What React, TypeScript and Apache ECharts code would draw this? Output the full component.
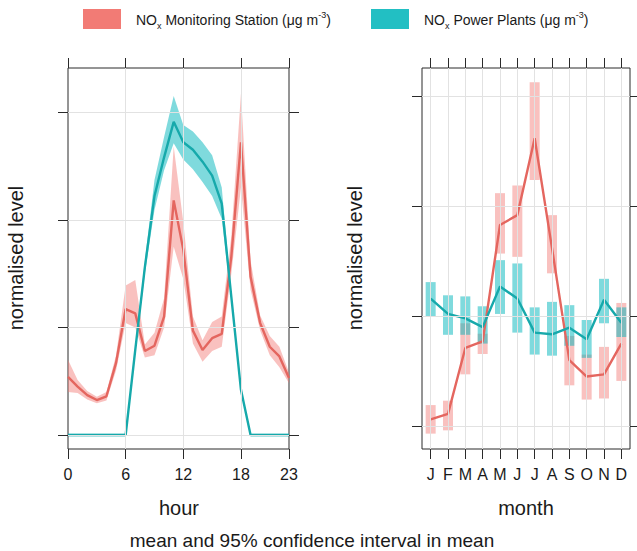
import React, { useEffect, useRef } from "react";
import * as echarts from "echarts";

// ---------- data ----------
const hours = [0, 1, 2, 3, 4, 5, 6, 7, 8, 9, 10, 11, 12, 13, 14, 15, 16, 17, 18, 19, 20, 21, 22, 23];
const hourTicks = [0, 6, 12, 18, 23];
const hourGrid = [6, 12, 18];

const hourStationMean = [0.54, 0.45, 0.37, 0.325, 0.36, 0.67, 1.17, 1.13, 0.78, 0.83, 1.10, 2.18, 1.72, 0.97, 0.79, 0.90, 0.94, 1.66, 2.72, 1.47, 1.04, 0.82, 0.73, 0.53];
const hourStationLow = [0.40, 0.39, 0.33, 0.295, 0.32, 0.60, 1.04, 1.00, 0.72, 0.74, 1.00, 1.75, 1.45, 0.85, 0.68, 0.78, 0.82, 1.50, 2.30, 1.35, 0.97, 0.74, 0.63, 0.48];
const hourStationHigh = [0.70, 0.51, 0.41, 0.355, 0.40, 0.74, 1.39, 1.44, 0.84, 0.95, 1.27, 2.68, 1.98, 1.10, 0.88, 1.05, 1.10, 1.85, 3.17, 1.62, 1.11, 0.92, 0.82, 0.58];

const hourPlantMean = [0, 0, 0, 0, 0, 0, 0, 0.79, 1.56, 2.22, 2.58, 2.91, 2.72, 2.65, 2.54, 2.41, 2.15, 1.28, 0.42, 0, 0, 0, 0, 0];
const hourPlantLow = [-0.012, -0.012, -0.012, -0.012, -0.012, -0.012, -0.012, 0.76, 1.50, 2.09, 2.46, 2.71, 2.56, 2.47, 2.35, 2.22, 2.01, 1.25, 0.40, -0.012, -0.012, -0.012, -0.012, -0.012];
const hourPlantHigh = [0.012, 0.012, 0.012, 0.012, 0.012, 0.012, 0.012, 0.82, 1.62, 2.37, 2.77, 3.15, 2.88, 2.82, 2.72, 2.60, 2.30, 1.31, 0.44, 0.012, 0.012, 0.012, 0.012, 0.012];

const monthNums = [1, 2, 3, 4, 5, 6, 7, 8, 9, 10, 11, 12];
const monthLabels = ["J", "F", "M", "A", "M", "J", "J", "A", "S", "O", "N", "D"];

const monthStationMean = [0.06, 0.11, 0.71, 0.77, 1.83, 1.92, 2.62, 1.62, 0.60, 0.45, 0.47, 0.75];
const monthStationLow = [-0.07, -0.04, 0.47, 0.655, 1.57, 1.54, 2.24, 1.39, 0.37, 0.24, 0.25, 0.41];
const monthStationHigh = [0.19, 0.23, 0.935, 0.84, 2.12, 2.19, 3.13, 1.92, 0.82, 0.65, 0.72, 1.12];

const monthPlantMean = [1.16, 1.02, 0.98, 0.90, 1.27, 1.16, 0.85, 0.835, 0.895, 0.79, 1.15, 0.94];
const monthPlantLow = [1.0, 0.83, 0.83, 0.75, 1.02, 0.85, 0.65, 0.64, 0.73, 0.62, 0.935, 0.81];
const monthPlantHigh = [1.31, 1.19, 1.18, 1.09, 1.51, 1.48, 1.08, 1.13, 1.10, 0.965, 1.34, 1.08];

const levelTicks = [0, 1, 2, 3];

// ---------- styles ----------
const FONT = "'Liberation Sans', Arial, Helvetica, sans-serif";
const RED_LINE = "#E4665F";
const RED_BAND = "rgba(242,118,112,0.45)";
const RED_SWATCH = "#F27B75";
const TEAL_LINE = "#16A9AB";
const TEAL_BAND = "rgba(0,182,188,0.5)";
const TEAL_SWATCH = "#22BFC3";
const AXIS = "#2a2a2a";
const GRIDLINE = "#e2e2e2";
const TEXT = "#1a1a1a";

function bandPolygon(xs: number[], lo: number[], hi: number[], fill: string, xi: number, yi: number) {
  return {
    type: "custom",
    xAxisIndex: xi,
    yAxisIndex: yi,
    silent: true,
    z: 2,
    data: xs.map((x, i) => [x, lo[i], hi[i]]),
    encode: { x: 0, y: [1, 2] },
    renderItem: (params: any, api: any) => {
      if (params.dataIndex !== 0) return null;
      const up = xs.map((x, i) => api.coord([x, hi[i]]));
      const dn = xs.map((x, i) => api.coord([x, lo[i]])).reverse();
      return { type: "polygon", shape: { points: up.concat(dn) }, style: { fill } };
    },
  };
}

function bandRects(xs: number[], lo: number[], hi: number[], fill: string, xi: number, yi: number) {
  return {
    type: "custom",
    xAxisIndex: xi,
    yAxisIndex: yi,
    silent: true,
    z: 2,
    data: xs.map((x, i) => [x, lo[i], hi[i]]),
    encode: { x: 0, y: [1, 2] },
    renderItem: (params: any, api: any) => {
      const top = api.coord([api.value(0), api.value(2)]);
      const bot = api.coord([api.value(0), api.value(1)]);
      return {
        type: "rect",
        shape: { x: top[0] - 5, y: top[1], width: 10, height: bot[1] - top[1] },
        style: { fill },
      };
    },
  };
}

function meanLine(xs: number[], ys: number[], color: string, xi: number, yi: number) {
  return {
    type: "line",
    xAxisIndex: xi,
    yAxisIndex: yi,
    silent: true,
    z: 3,
    symbol: "none",
    showSymbol: false,
    data: xs.map((x, i) => [x, ys[i]]),
    lineStyle: { color, width: 2.4 },
  };
}

function gridLines(xVals: number[], yVals: number[], xi: number, yi: number) {
  return {
    type: "line",
    xAxisIndex: xi,
    yAxisIndex: yi,
    silent: true,
    z: 1,
    symbol: "none",
    data: [[xVals[0], yVals[0]]],
    lineStyle: { width: 0, opacity: 0 },
    markLine: {
      silent: true,
      symbol: "none",
      label: { show: false },
      animation: false,
      lineStyle: { color: GRIDLINE, type: "solid", width: 1 },
      data: [...xVals.map((v) => ({ xAxis: v })), ...yVals.map((v) => ({ yAxis: v }))],
    },
  };
}

function xAxisDef(grid: number, pos: string, min: number, max: number, ticks: number[], labels: boolean, fmt?: (v: number) => string) {
  return {
    type: "value",
    gridIndex: grid,
    position: pos,
    min,
    max,
    axisLine: { show: false, onZero: false },
    axisTick: { show: true, length: 10, customValues: ticks, lineStyle: { color: AXIS, width: 1 } },
    axisLabel: labels
      ? { show: true, customValues: ticks, fontSize: 16, fontFamily: FONT, color: TEXT, margin: 17, formatter: fmt }
      : { show: false },
    splitLine: { show: false },
  };
}

function yAxisDef(grid: number, pos: string, min: number, max: number) {
  return {
    type: "value",
    gridIndex: grid,
    position: pos,
    min,
    max,
    axisLine: { show: false, onZero: false },
    axisTick: { show: true, length: 10, customValues: levelTicks, lineStyle: { color: AXIS, width: 1 } },
    axisLabel: { show: false },
    splitLine: { show: false },
  };
}

function legendEntry(x: number, swatch: string, label: string) {
  return {
    type: "group",
    children: [
      { type: "rect", shape: { x, y: 9, width: 38, height: 20 }, style: { fill: swatch } },
      {
        type: "text",
        x: x + 53,
        y: 20,
        style: {
          text: `{n|NO}{s|x}{n| ${label} (μg m}{p|-3}{n|)}`,
          textVerticalAlign: "middle",
          verticalAlign: "middle",
          rich: {
            n: { fontSize: 14, fontFamily: FONT, fill: TEXT, lineHeight: 20 },
            s: { fontSize: 9, fontFamily: FONT, fill: TEXT, verticalAlign: "bottom", lineHeight: 11 },
            p: { fontSize: 9, fontFamily: FONT, fill: TEXT, verticalAlign: "top", lineHeight: 11 },
          },
        },
      },
    ],
  };
}

function plainText(x: number, y: number, text: string, size: number, rotation = 0) {
  return {
    type: "text",
    x,
    y,
    rotation,
    style: {
      text,
      fontSize: size,
      fontFamily: FONT,
      fill: TEXT,
      textAlign: "center",
      align: "center",
      textVerticalAlign: "middle",
      verticalAlign: "middle",
    },
  };
}

export default function App() {
  const ref = useRef<HTMLDivElement>(null);

  useEffect(() => {
    if (!ref.current) return;
    const chart = echarts.init(ref.current, null, { renderer: "svg" });
    const option: any = {
      animation: false,
      backgroundColor: "#ffffff",
      grid: [
        { left: 68, top: 68, width: 221, height: 381, show: true, borderColor: AXIS, borderWidth: 1, backgroundColor: "transparent" },
        { left: 422, top: 68, width: 208, height: 381, show: true, borderColor: AXIS, borderWidth: 1, backgroundColor: "transparent" },
      ],
      xAxis: [
        xAxisDef(0, "bottom", 0, 23, hourTicks, true),
        xAxisDef(0, "top", 0, 23, hourTicks, false),
        xAxisDef(1, "bottom", 0.5, 12.5, monthNums, true, (v: number) => monthLabels[Math.round(v) - 1] ?? ""),
        xAxisDef(1, "top", 0.5, 12.5, monthNums, false),
      ],
      yAxis: [
        yAxisDef(0, "left", -0.13, 3.41),
        yAxisDef(0, "right", -0.13, 3.41),
        yAxisDef(1, "left", -0.21, 3.26),
        yAxisDef(1, "right", -0.21, 3.26),
      ],
      series: [
        gridLines(hourGrid, levelTicks, 0, 0),
        gridLines(monthNums, levelTicks, 2, 2),
        bandPolygon(hours, hourStationLow, hourStationHigh, RED_BAND, 0, 0),
        bandPolygon(hours, hourPlantLow, hourPlantHigh, TEAL_BAND, 0, 0),
        meanLine(hours, hourStationMean, RED_LINE, 0, 0),
        meanLine(hours, hourPlantMean, TEAL_LINE, 0, 0),
        bandRects(monthNums, monthStationLow, monthStationHigh, RED_BAND, 2, 2),
        bandRects(monthNums, monthPlantLow, monthPlantHigh, TEAL_BAND, 2, 2),
        meanLine(monthNums, monthStationMean, RED_LINE, 2, 2),
        meanLine(monthNums, monthPlantMean, TEAL_LINE, 2, 2),
      ],
      graphic: [
        legendEntry(83, RED_SWATCH, "Monitoring Station"),
        legendEntry(371, TEAL_SWATCH, "Power Plants"),
        plainText(16, 258, "normalised level", 20, Math.PI / 2),
        plainText(355, 258, "normalised level", 20, Math.PI / 2),
        plainText(179, 508, "hour", 20),
        plainText(526, 508, "month", 20),
        plainText(312, 540, "mean and 95% confidence interval in mean", 19),
      ],
    };
    chart.setOption(option);
    return () => chart.dispose();
  }, []);

  return (
    <div
      ref={ref}
      style={{ position: "fixed", left: 0, top: 0, width: 637, height: 551, background: "#fff" }}
    />
  );
}
